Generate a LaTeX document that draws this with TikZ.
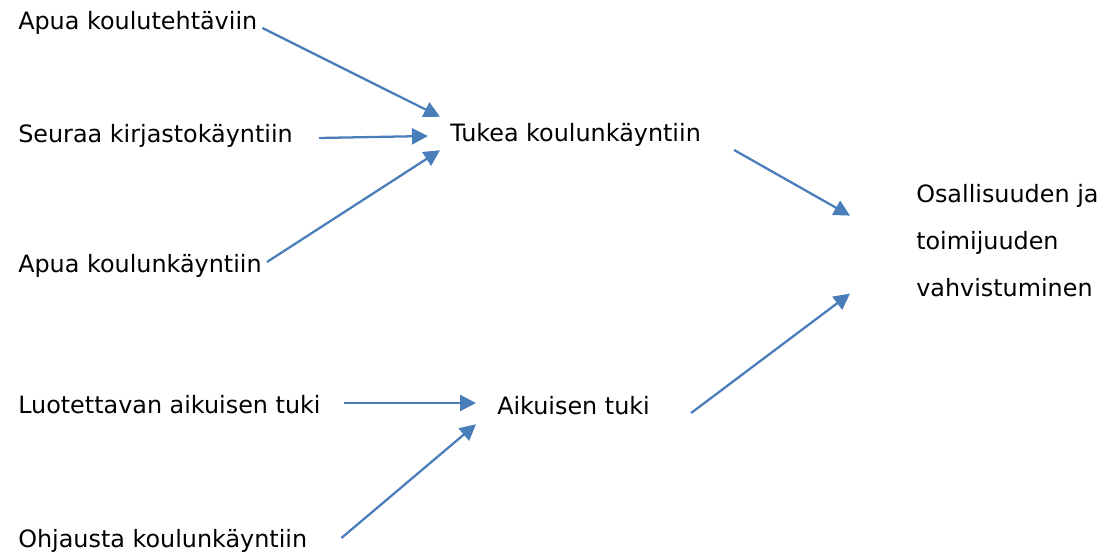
\documentclass[tikz,border=0pt]{standalone}
\usepackage{fontspec}
\setmainfont{DejaVu Sans}
\usepackage{xcolor}
\usepackage{tikz}
\usetikzlibrary{arrows.meta}

\definecolor{linkblue}{RGB}{74,126,187}

\begin{document}
\begin{tikzpicture}[x=0.75pt, y=-0.75pt,
    txt/.style={inner sep=0pt, anchor=base west, text height=13.5pt, text depth=3.75pt,
        font={\fontsize{17.9}{35.6}\selectfont}},
    link/.style={-{Triangle[length=12pt, width=12pt]}, line width=1.7pt, draw=linkblue}]
    \useasboundingbox (0,0) rectangle (1102,555);

    \node[txt] (kt) at (18,30) {Apua koulutehtäviin};
    \node[txt] (sk) at (18,143) {Seuraa kirjastokäyntiin};
    \node[txt] (ak) at (18,273) {Apua koulunkäyntiin};
    \node[txt] (lt) at (18,413) {Luotettavan aikuisen tuki};
    \node[txt] (ok) at (18,547) {Ohjausta koulunkäyntiin};
    \node[txt] (tk) at (450,142) {Tukea koulunkäyntiin};
    \node[txt] (at) at (497,415) {Aikuisen tuki};
    % base of a multi-line node is its last line
    \node[inner sep=0pt, anchor=base west, align=left, font={\fontsize{17.9}{35.6}\selectfont}]
        (ov) at (916,297) {Osallisuuden ja\\toimijuuden\\vahvistuminen};

    \draw[link] ([shift={(5,4.5)}]kt.east) -- ([shift={(-10,-7)}]tk.north west);
    \draw[link] ([shift={(26,1.5)}]sk.east) -- ([shift={(-22,0.5)}]tk.west);
    \draw[link] ([shift={(5,-4.5)}]ak.east) -- ([shift={(-10,3)}]tk.south west);
    \draw[link] ([shift={(23,-3.5)}]lt.east) -- ([shift={(-21,-5.5)}]at.west);
    \draw[link] ([shift={(34,-2.5)}]ok.east) -- ([shift={(-21,4)}]at.south west);
    \draw[link] ([shift={(33,14.5)}]tk.east) -- ([shift={(-66,-25)}]ov.west);
    \draw[link] ([shift={(41,4.5)}]at.east) -- ([shift={(-66,53)}]ov.west);
\end{tikzpicture}
\end{document}
